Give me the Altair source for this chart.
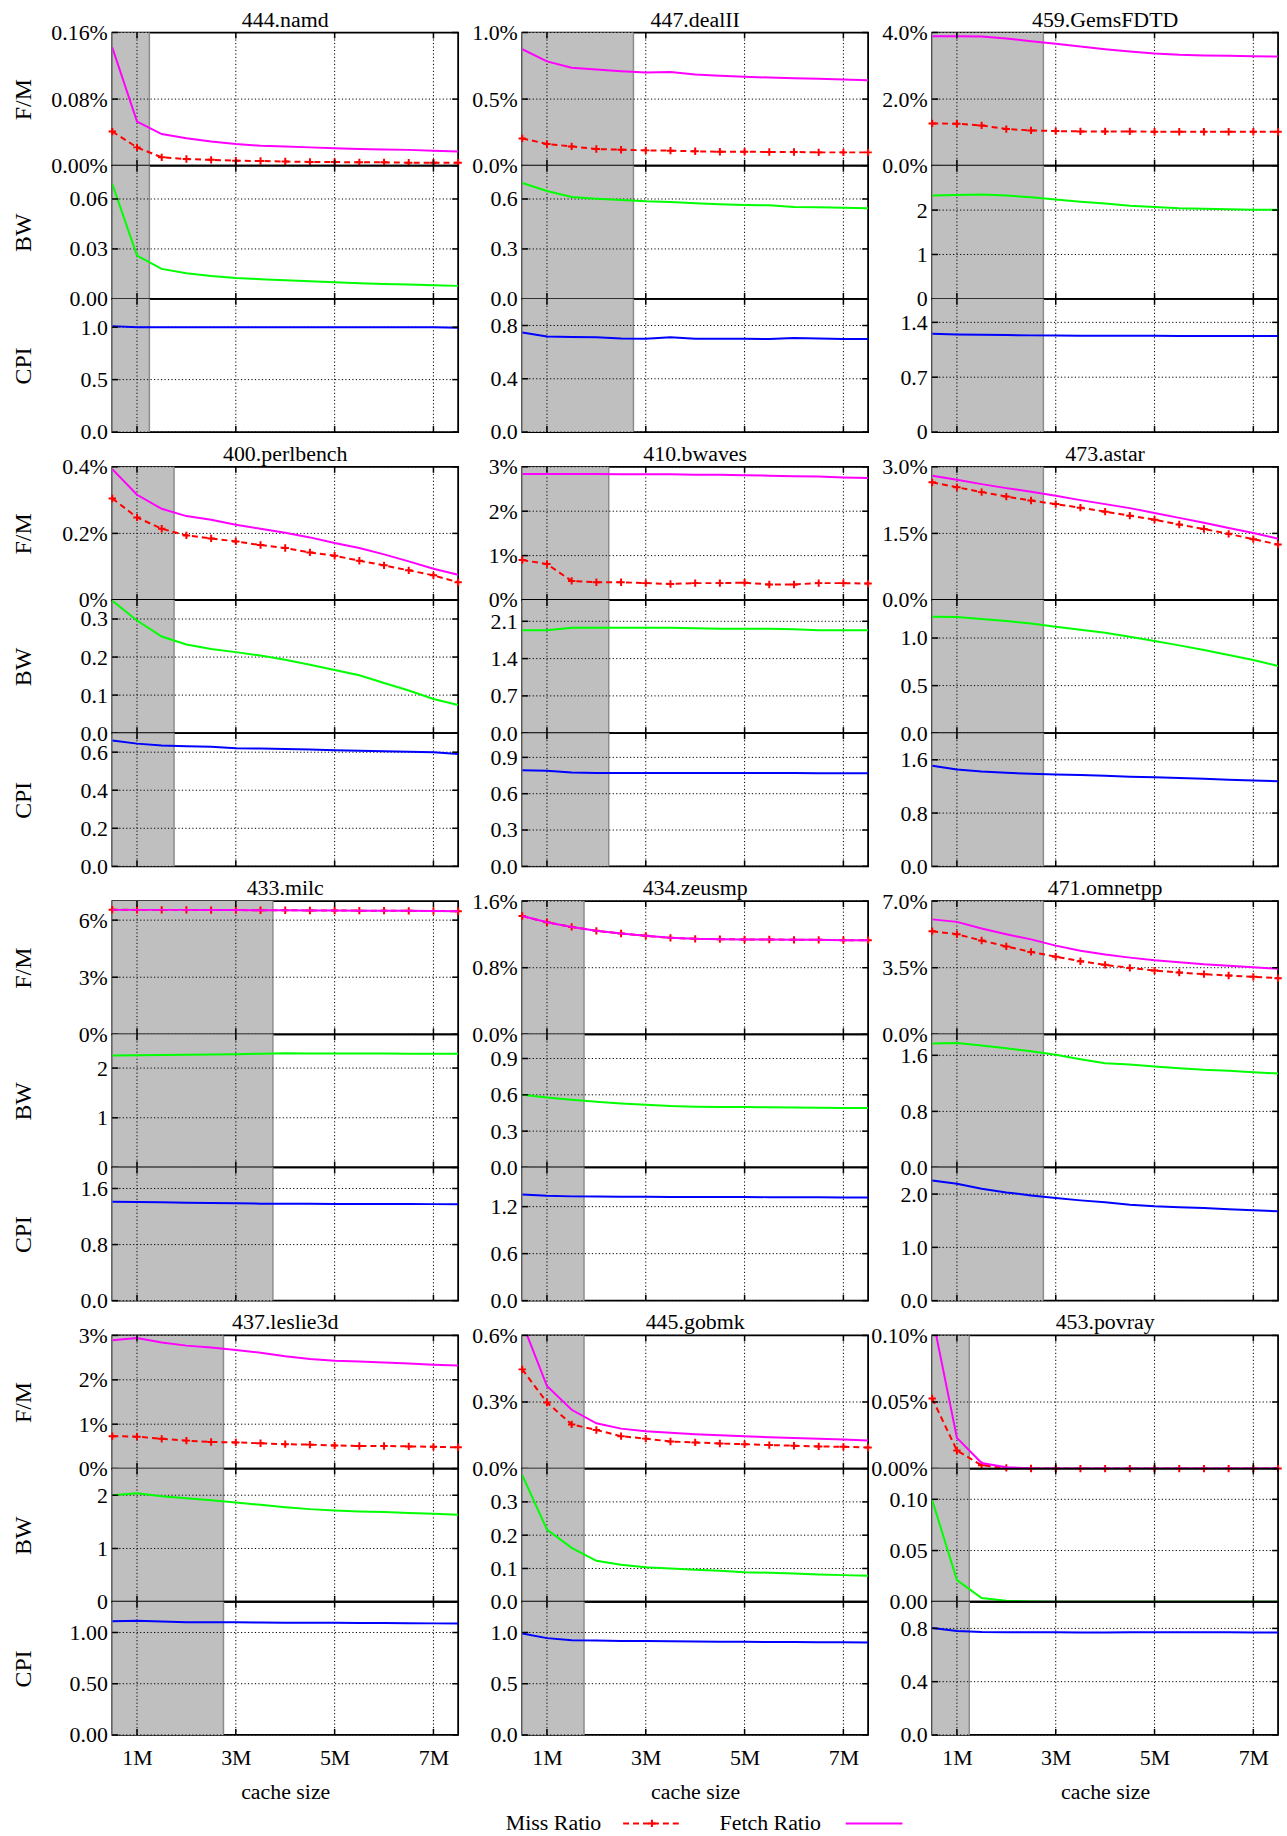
import altair as alt
import pandas as pd

FONT = "Liberation Serif"

# ---------------- data ----------------
CACHE_MB = [0.5, 1.0, 1.5, 2.0, 2.5, 3.0, 3.5, 4.0, 4.5, 5.0, 5.5, 6.0, 6.5, 7.0, 7.5]

BENCHMARKS = ["444.namd", "447.dealII", "459.GemsFDTD",
              "400.perlbench", "410.bwaves", "473.astar",
              "433.milc", "434.zeusmp", "471.omnetpp",
              "437.leslie3d", "445.gobmk", "453.povray"]

SHADE_END = [1.25, 2.75, 2.75, 1.75, 2.25, 2.75, 3.75, 1.75, 2.75, 2.75, 1.75, 1.25]

# fetch ratio (%)
FETCH = [
    [0.142, 0.053, 0.038, 0.033, 0.029, 0.026, 0.024, 0.023, 0.022, 0.021, 0.020, 0.0195, 0.019, 0.018, 0.017],
    [0.875, 0.783, 0.735, 0.723, 0.71, 0.70, 0.703, 0.685, 0.675, 0.667, 0.662, 0.657, 0.652, 0.647, 0.642],
    [3.89, 3.89, 3.88, 3.82, 3.74, 3.66, 3.58, 3.50, 3.43, 3.37, 3.33, 3.31, 3.30, 3.29, 3.28],
    [0.393, 0.316, 0.274, 0.252, 0.241, 0.226, 0.214, 0.202, 0.188, 0.171, 0.156, 0.137, 0.116, 0.094, 0.076],
    [2.84, 2.84, 2.84, 2.84, 2.83, 2.83, 2.83, 2.82, 2.82, 2.81, 2.80, 2.79, 2.78, 2.76, 2.75],
    [2.80, 2.71, 2.61, 2.52, 2.44, 2.35, 2.25, 2.16, 2.07, 1.96, 1.85, 1.74, 1.62, 1.51, 1.38],
    [6.54, 6.54, 6.54, 6.54, 6.53, 6.53, 6.52, 6.52, 6.51, 6.51, 6.50, 6.50, 6.49, 6.48, 6.47],
    [1.421, 1.346, 1.290, 1.243, 1.211, 1.183, 1.159, 1.147, 1.143, 1.139, 1.139, 1.135, 1.135, 1.131, 1.131],
    [6.04, 5.91, 5.56, 5.26, 4.99, 4.66, 4.39, 4.19, 4.03, 3.89, 3.79, 3.68, 3.60, 3.53, 3.44],
    [2.89, 2.94, 2.84, 2.77, 2.73, 2.67, 2.61, 2.53, 2.47, 2.43, 2.41, 2.39, 2.37, 2.34, 2.32],
    [0.657, 0.372, 0.265, 0.204, 0.180, 0.168, 0.161, 0.155, 0.150, 0.146, 0.141, 0.138, 0.134, 0.131, 0.127],
    [0.115, 0.0231, 0.0042, 0.001, 0.0003, 0.0001, 0.0001, 0.0, 0.0, 0.0, 0.0, 0.0, 0.0, 0.0, 0.0],
]

# miss ratio (%)
MISS = [
    [0.041, 0.022, 0.010, 0.008, 0.007, 0.006, 0.0056, 0.005, 0.0045, 0.0044, 0.004, 0.004, 0.0036, 0.0036, 0.0036],
    [0.205, 0.163, 0.145, 0.125, 0.12, 0.115, 0.113, 0.108, 0.105, 0.105, 0.103, 0.103, 0.10, 0.10, 0.10],
    [1.27, 1.26, 1.21, 1.10, 1.06, 1.04, 1.03, 1.03, 1.03, 1.02, 1.02, 1.02, 1.02, 1.02, 1.02],
    [0.305, 0.248, 0.214, 0.194, 0.185, 0.176, 0.165, 0.156, 0.143, 0.133, 0.118, 0.104, 0.089, 0.074, 0.053],
    [0.90, 0.81, 0.43, 0.40, 0.40, 0.38, 0.36, 0.38, 0.38, 0.39, 0.35, 0.35, 0.38, 0.38, 0.37],
    [2.65, 2.54, 2.43, 2.33, 2.24, 2.16, 2.08, 1.99, 1.90, 1.81, 1.70, 1.60, 1.49, 1.37, 1.25],
    [6.55, 6.54, 6.54, 6.54, 6.53, 6.53, 6.52, 6.52, 6.51, 6.51, 6.50, 6.50, 6.49, 6.48, 6.47],
    [1.421, 1.346, 1.290, 1.243, 1.211, 1.183, 1.159, 1.147, 1.143, 1.139, 1.139, 1.135, 1.135, 1.131, 1.131],
    [5.42, 5.26, 4.93, 4.62, 4.33, 4.08, 3.84, 3.65, 3.49, 3.35, 3.25, 3.16, 3.09, 3.02, 2.95],
    [0.73, 0.72, 0.67, 0.63, 0.60, 0.59, 0.57, 0.55, 0.54, 0.52, 0.51, 0.51, 0.50, 0.49, 0.48],
    [0.447, 0.298, 0.199, 0.174, 0.146, 0.135, 0.122, 0.118, 0.113, 0.110, 0.106, 0.103, 0.100, 0.098, 0.095],
    [0.0526, 0.0136, 0.0025, 0.0005, 0.0001, 0.0, 0.0, 0.0, 0.0, 0.0, 0.0, 0.0, 0.0, 0.0, 0.0],
]

BW = [
    [0.069, 0.026, 0.018, 0.0154, 0.0138, 0.0126, 0.0118, 0.0112, 0.0106, 0.0100, 0.0094, 0.0090, 0.0086, 0.0082, 0.0078],
    [0.696, 0.648, 0.612, 0.602, 0.594, 0.586, 0.582, 0.574, 0.568, 0.564, 0.562, 0.552, 0.55, 0.548, 0.544],
    [2.33, 2.34, 2.35, 2.33, 2.29, 2.24, 2.19, 2.15, 2.10, 2.07, 2.04, 2.03, 2.02, 2.01, 2.01],
    [0.348, 0.296, 0.254, 0.233, 0.221, 0.213, 0.204, 0.193, 0.180, 0.166, 0.152, 0.132, 0.112, 0.090, 0.074],
    [1.93, 1.93, 1.98, 1.98, 1.98, 1.98, 1.98, 1.97, 1.96, 1.96, 1.96, 1.95, 1.93, 1.93, 1.93],
    [1.224, 1.220, 1.199, 1.178, 1.154, 1.119, 1.087, 1.056, 1.014, 0.969, 0.923, 0.874, 0.822, 0.769, 0.706],
    [2.255, 2.26, 2.265, 2.27, 2.275, 2.28, 2.29, 2.30, 2.295, 2.295, 2.295, 2.295, 2.29, 2.29, 2.29],
    [0.60, 0.578, 0.559, 0.543, 0.529, 0.518, 0.507, 0.502, 0.499, 0.499, 0.497, 0.496, 0.494, 0.492, 0.491],
    [1.768, 1.777, 1.739, 1.701, 1.659, 1.607, 1.545, 1.488, 1.469, 1.441, 1.417, 1.393, 1.379, 1.360, 1.341],
    [2.0, 2.037, 1.981, 1.944, 1.907, 1.863, 1.82, 1.776, 1.739, 1.714, 1.696, 1.683, 1.665, 1.652, 1.634],
    [0.38, 0.217, 0.162, 0.123, 0.111, 0.104, 0.10, 0.096, 0.093, 0.089, 0.087, 0.085, 0.082, 0.080, 0.078],
    [0.0994, 0.0211, 0.0036, 0.001, 0.0003, 0.0001, 0.0, 0.0, 0.0, 0.0, 0.0, 0.0, 0.0, 0.0, 0.0],
]

CPI = [
    [1.01, 1.0, 1.0, 1.0, 1.0, 1.0, 1.0, 1.0, 1.0, 1.0, 1.0, 1.0, 1.0, 1.0, 0.995],
    [0.748, 0.718, 0.713, 0.711, 0.703, 0.70, 0.711, 0.70, 0.70, 0.70, 0.698, 0.706, 0.703, 0.698, 0.698],
    [1.255, 1.246, 1.242, 1.238, 1.234, 1.232, 1.230, 1.229, 1.228, 1.228, 1.227, 1.227, 1.226, 1.226, 1.225],
    [0.661, 0.645, 0.635, 0.631, 0.628, 0.621, 0.619, 0.617, 0.614, 0.610, 0.607, 0.605, 0.602, 0.600, 0.591],
    [0.793, 0.79, 0.776, 0.77, 0.77, 0.77, 0.77, 0.77, 0.77, 0.77, 0.77, 0.77, 0.768, 0.768, 0.768],
    [1.51, 1.456, 1.426, 1.406, 1.39, 1.38, 1.37, 1.36, 1.347, 1.337, 1.327, 1.317, 1.30, 1.29, 1.277],
    [1.412, 1.408, 1.404, 1.398, 1.394, 1.389, 1.384, 1.382, 1.381, 1.380, 1.380, 1.379, 1.378, 1.377, 1.375],
    [1.356, 1.339, 1.331, 1.328, 1.326, 1.325, 1.324, 1.323, 1.322, 1.322, 1.321, 1.320, 1.319, 1.318, 1.318],
    [2.255, 2.193, 2.099, 2.031, 1.975, 1.925, 1.882, 1.845, 1.801, 1.770, 1.752, 1.739, 1.714, 1.696, 1.677],
    [1.11, 1.114, 1.107, 1.10, 1.10, 1.10, 1.097, 1.096, 1.095, 1.094, 1.093, 1.092, 1.090, 1.089, 1.088],
    [0.99, 0.945, 0.925, 0.922, 0.918, 0.916, 0.914, 0.912, 0.910, 0.909, 0.908, 0.907, 0.905, 0.904, 0.903],
    [0.803, 0.781, 0.773, 0.771, 0.771, 0.771, 0.770, 0.770, 0.771, 0.771, 0.771, 0.771, 0.771, 0.770, 0.770],
]

# y-axis domains, tick values and tick labels
FM_MAX = [0.16, 1.0, 4.0, 0.4, 3.0, 3.0, 7.0, 1.6, 7.0, 3.0, 0.6, 0.10]
BW_MAX = [0.08, 0.8, 3.0, 0.35, 2.5, 1.4, 2.68, 1.1, 1.9, 2.5, 0.4, 0.13]
CPI_MAX = [1.27, 1.0, 1.70, 0.7, 1.1, 2.0, 1.9, 1.7, 2.5, 1.3, 1.3, 1.0]

FM_TICKS = [[0, 0.08, 0.16], [0, 0.5, 1.0], [0, 2.0, 4.0], [0, 0.2, 0.4], [0, 1, 2, 3], [0, 1.5, 3.0],
            [0, 3, 6], [0, 0.8, 1.6], [0, 3.5, 7.0], [0, 1, 2, 3], [0, 0.3, 0.6], [0, 0.05, 0.1]]
FM_LABELS = [["0.00%", "0.08%", "0.16%"], ["0.0%", "0.5%", "1.0%"], ["0.0%", "2.0%", "4.0%"],
             ["0%", "0.2%", "0.4%"], ["0%", "1%", "2%", "3%"], ["0.0%", "1.5%", "3.0%"],
             ["0%", "3%", "6%"], ["0.0%", "0.8%", "1.6%"], ["0.0%", "3.5%", "7.0%"],
             ["0%", "1%", "2%", "3%"], ["0.0%", "0.3%", "0.6%"], ["0.00%", "0.05%", "0.10%"]]
BW_TICKS = [[0, 0.03, 0.06], [0, 0.3, 0.6], [0, 1, 2], [0, 0.1, 0.2, 0.3], [0, 0.7, 1.4, 2.1], [0, 0.5, 1.0],
            [0, 1, 2], [0, 0.3, 0.6, 0.9], [0, 0.8, 1.6], [0, 1, 2], [0, 0.1, 0.2, 0.3], [0, 0.05, 0.1]]
BW_LABELS = [["0.00", "0.03", "0.06"], ["0.0", "0.3", "0.6"], ["0", "1", "2"],
             ["0.0", "0.1", "0.2", "0.3"], ["0.0", "0.7", "1.4", "2.1"], ["0.0", "0.5", "1.0"],
             ["0", "1", "2"], ["0.0", "0.3", "0.6", "0.9"], ["0.0", "0.8", "1.6"],
             ["0", "1", "2"], ["0.0", "0.1", "0.2", "0.3"], ["0.00", "0.05", "0.10"]]
CPI_TICKS = [[0, 0.5, 1.0], [0, 0.4, 0.8], [0, 0.7, 1.4], [0, 0.2, 0.4, 0.6], [0, 0.3, 0.6, 0.9], [0, 0.8, 1.6],
             [0, 0.8, 1.6], [0, 0.6, 1.2], [0, 1.0, 2.0], [0, 0.5, 1.0], [0, 0.5, 1.0], [0, 0.4, 0.8]]
CPI_LABELS = [["0.0", "0.5", "1.0"], ["0.0", "0.4", "0.8"], ["0", "0.7", "1.4"],
              ["0.0", "0.2", "0.4", "0.6"], ["0.0", "0.3", "0.6", "0.9"], ["0.0", "0.8", "1.6"],
              ["0.0", "0.8", "1.6"], ["0.0", "0.6", "1.2"], ["0.0", "1.0", "2.0"],
              ["0.00", "0.50", "1.00"], ["0.0", "0.5", "1.0"], ["0.0", "0.4", "0.8"]]

PANEL_TITLES = ["F/M", "BW", "CPI"]
X_TICKS = [1, 3, 5, 7]
X_LABELS = ["1M", "3M", "5M", "7M"]
X_TITLE = "cache size"
LEGEND_LABELS = ["Miss Ratio", "Fetch Ratio"]

# ---------------- styling ----------------
W, H = 348, 134
ROW_GAP = 35
LEGEND_GAP = 79
TICK = 6
GRID_DASH = [1.2, 2.3]
PLUS = "M-1,0L1,0M0,-1L0,1"
LS = 22
TS = 24
NOSTROKE = alt.ViewBackground(stroke="transparent")


def lookup_expr(vals, labels):
    arr_l = "[" + ",".join("'" + s + "'" for s in labels) + "]"
    arr_v = "[" + ",".join(repr(v) for v in vals) + "]"
    return arr_l + "[indexof(" + arr_v + ", datum.value)]"


def panel(b, kind, col, bottom):
    df = pd.DataFrame({"x": CACHE_MB, "fetch": FETCH[b], "miss": MISS[b],
                       "bw": BW[b], "cpi": CPI[b]})
    if kind == 0:
        ymax, yvals, ylabs = FM_MAX[b], FM_TICKS[b], FM_LABELS[b]
    elif kind == 1:
        ymax, yvals, ylabs = BW_MAX[b], BW_TICKS[b], BW_LABELS[b]
    else:
        ymax, yvals, ylabs = CPI_MAX[b], CPI_TICKS[b], CPI_LABELS[b]

    xscale = alt.Scale(domain=[0.5, 7.5], nice=False, zero=False)
    yscale = alt.Scale(domain=[0, ymax], nice=False, zero=False)

    if bottom:
        xaxis = alt.Axis(values=X_TICKS, labelExpr=lookup_expr(X_TICKS, X_LABELS),
                         title=X_TITLE, grid=False, ticks=False, domain=False,
                         labelFontSize=LS, labelPadding=13, labelFlush=False,
                         titleFontSize=LS, titleFontWeight="normal", titlePadding=13)
    else:
        xaxis = None

    ykw = dict(values=yvals, labelExpr=lookup_expr(yvals, ylabs), grid=False, ticks=False,
               domain=False, labelFontSize=LS, labelPadding=5, labelFlush=False,
               labelOverlap=False)
    if col == 0:
        ykw.update(title=PANEL_TITLES[kind], titleFontSize=TS, titleFontWeight="normal",
                   titleAngle=270, titleX=-89, titleY=H / 2, titleAlign="center",
                   titleBaseline="middle")
    else:
        ykw.update(title=None)
    yaxis = alt.Axis(**ykw)

    def X(f):
        return alt.X(f, type="quantitative", scale=xscale, axis=xaxis)

    def Y(f):
        return alt.Y(f, type="quantitative", scale=yscale, axis=yaxis)

    shade_df = pd.DataFrame({"x0": [0.5], "x1": [SHADE_END[b]]})
    xt_df = pd.DataFrame({"t": X_TICKS})
    yt_df = pd.DataFrame({"v": yvals})

    layers = [
        alt.Chart(shade_df).mark_rect(color="#bfbfbf").encode(
            x=X("x0"), x2="x1", y=alt.value(0), y2=alt.value(H)),
        alt.Chart(shade_df).mark_rule(color="#8c8c8c", strokeWidth=1.5).encode(
            x=X("x1"), y=alt.value(0), y2=alt.value(H)),
        alt.Chart(xt_df).mark_rule(color="black", strokeWidth=1, strokeDash=GRID_DASH).encode(
            x=X("t"), y=alt.value(0), y2=alt.value(H)),
        alt.Chart(yt_df).mark_rule(color="black", strokeWidth=1, strokeDash=GRID_DASH).encode(
            y=Y("v"), x=alt.value(0), x2=alt.value(W)),
    ]
    if kind == 0:
        layers += [
            alt.Chart(df).mark_line(color="#ff0000", strokeWidth=2, strokeDash=[6, 4], clip=True).encode(
                x=X("x"), y=Y("miss")),
            alt.Chart(df).mark_point(shape=PLUS, color="#ff0000", filled=False, strokeWidth=2,
                                     size=55, opacity=1).encode(x=X("x"), y=Y("miss")),
            alt.Chart(df).mark_line(color="#ff00ff", strokeWidth=2, clip=True).encode(
                x=X("x"), y=Y("fetch")),
        ]
    elif kind == 1:
        layers.append(alt.Chart(df).mark_line(color="#00ff00", strokeWidth=2, clip=True).encode(
            x=X("x"), y=Y("bw")))
    else:
        layers.append(alt.Chart(df).mark_line(color="#0000ff", strokeWidth=2, clip=True).encode(
            x=X("x"), y=Y("cpi")))

    layers += [
        alt.Chart(xt_df).mark_rule(color="black", strokeWidth=1.5).encode(
            x=X("t"), y=alt.value(0), y2=alt.value(TICK)),
        alt.Chart(xt_df).mark_rule(color="black", strokeWidth=1.5).encode(
            x=X("t"), y=alt.value(H - TICK), y2=alt.value(H)),
        alt.Chart(yt_df).mark_rule(color="black", strokeWidth=1.5).encode(
            y=Y("v"), x=alt.value(0), x2=alt.value(TICK)),
        alt.Chart(yt_df).mark_rule(color="black", strokeWidth=1.5).encode(
            y=Y("v"), x=alt.value(W - TICK), x2=alt.value(W)),
    ]
    if kind == 0:
        name_df = pd.DataFrame({"name": [BENCHMARKS[b]]})
        layers.append(alt.Chart(name_df).mark_text(
            font=FONT, fontSize=LS, align="center", baseline="alphabetic", color="black").encode(
            text="name:N", x=alt.value(W / 2), y=alt.value(-6)))
    return alt.layer(*layers).properties(width=W, height=H)


ldf = pd.DataFrame({"a": [0]})


def spacer(h):
    return alt.Chart(ldf).mark_point(opacity=0).encode(
        x=alt.value(0), y=alt.value(0)).properties(width=W, height=h, view=NOSTROKE)


# legend (matplotlib style: label then sample), placed in the first column cell
LY = 10
legend = alt.layer(
    alt.Chart(ldf).mark_text(text=LEGEND_LABELS[0], font=FONT, fontSize=LS, align="left",
                             baseline="middle").encode(x=alt.value(396), y=alt.value(LY)),
    alt.Chart(ldf).mark_rule(color="#ff0000", strokeWidth=2, strokeDash=[6, 4]).encode(
        x=alt.value(514), x2=alt.value(572), y=alt.value(LY)),
    alt.Chart(ldf).mark_point(shape=PLUS, color="#ff0000", filled=False, strokeWidth=2, size=55,
                              opacity=1).encode(x=alt.value(543), y=alt.value(LY)),
    alt.Chart(ldf).mark_text(text=LEGEND_LABELS[1], font=FONT, fontSize=LS, align="left",
                             baseline="middle").encode(x=alt.value(611), y=alt.value(LY)),
    alt.Chart(ldf).mark_rule(color="#ff00ff", strokeWidth=2).encode(
        x=alt.value(738), x2=alt.value(795), y=alt.value(LY)),
).properties(width=W, height=20, view=NOSTROKE)

cells = []
for r in range(4):
    for k in range(3):
        for c in range(3):
            b = r * 3 + c
            cells.append(panel(b, k, c, r == 3 and k == 2))
    gap = ROW_GAP if r < 3 else LEGEND_GAP
    cells += [spacer(gap) for _ in range(3)]
cells += [legend, spacer(20), spacer(20)]

chart = alt.concat(*cells, columns=3, spacing={"row": 0, "column": 64.5}, bounds="flush").properties(
    padding={"left": 11, "top": 2, "right": 0, "bottom": 0}
).configure_view(stroke="black", strokeWidth=1.8).configure_axis(
    labelFont=FONT, titleFont=FONT, labelColor="black", titleColor="black"
).configure_title(font=FONT, color="black")

chart.save("out.html", embed_options={"renderer": "svg", "actions": False})
